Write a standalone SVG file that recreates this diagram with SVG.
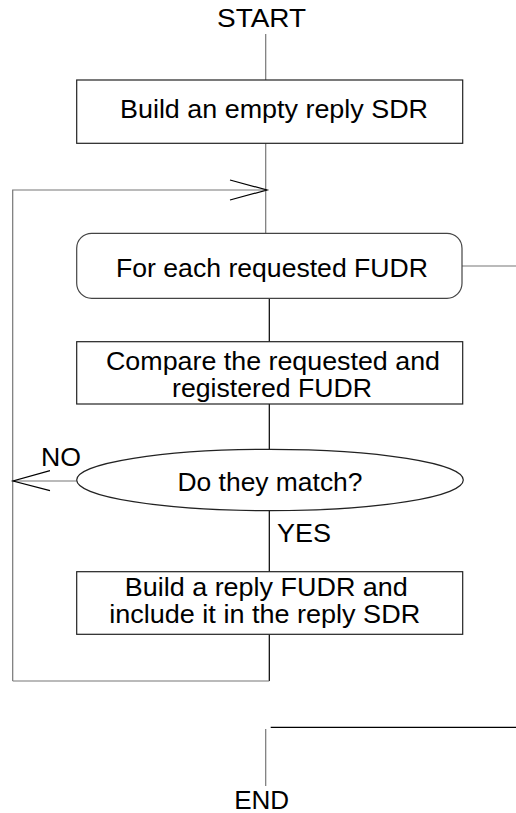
<svg xmlns="http://www.w3.org/2000/svg" width="516" height="813" viewBox="0 0 516 813">
  <style>
    text { font-family: "Liberation Sans", Arial, sans-serif; font-size: 25px; fill: #000; }
    .box { fill: #fff; stroke: #222; stroke-width: 1.2; }
    .ln { fill: none; stroke: #777; stroke-width: 1.2; }
    .dk { fill: none; stroke: #000; stroke-width: 1.2; }
  </style>
  <rect width="516" height="813" fill="#fff"/>

  <!-- connectors -->
  <g id="connectors">
    <line class="ln" x1="265.7" y1="34" x2="265.7" y2="80"/>
    <line class="ln" x1="265.7" y1="143.3" x2="265.7" y2="233.3"/>
    <!-- loop return into the top of the iteration -->
    <polyline class="ln" points="12.7,681 12.7,190 267,190"/>
    <polyline class="dk" points="230,180 267,190 230,200"/>
    <!-- iteration exit to the right -->
    <line class="ln" x1="462" y1="266" x2="516" y2="266"/>
    <line class="dk" x1="269.3" y1="298.3" x2="269.3" y2="341.7"/>
    <line class="dk" x1="269.3" y1="404" x2="269.3" y2="449.3"/>
    <!-- NO branch -->
    <line class="ln" x1="77" y1="481" x2="13" y2="481"/>
    <polyline class="dk" points="50,470.7 13,481 50,490.7"/>
    <!-- YES branch -->
    <line class="dk" x1="269.3" y1="510.7" x2="269.3" y2="571.7"/>
    <line class="dk" x1="269.3" y1="634.3" x2="269.3" y2="681"/>
    <line class="ln" x1="12.7" y1="681" x2="269.3" y2="681"/>
    <!-- exit path to END -->
    <line class="dk" x1="270.7" y1="727.3" x2="516" y2="727.3"/>
    <line class="ln" x1="265.7" y1="729" x2="265.7" y2="786"/>
  </g>

  <g id="start">
    <text x="261.5" y="26.7" text-anchor="middle" textLength="89" lengthAdjust="spacingAndGlyphs">START</text>
  </g>

  <g id="build-empty">
    <rect class="box" x="76.7" y="80" width="386" height="63.3"/>
    <text x="274" y="118.3" text-anchor="middle" textLength="308" lengthAdjust="spacingAndGlyphs">Build an empty reply SDR</text>
  </g>

  <g id="for-each">
    <rect class="box" x="76.7" y="233.3" width="385.3" height="65" rx="15" ry="15" style="stroke:#444"/>
    <text x="272" y="277.3" text-anchor="middle" textLength="312" lengthAdjust="spacingAndGlyphs">For each requested FUDR</text>
  </g>

  <g id="compare">
    <rect class="box" x="76.7" y="341.7" width="386" height="62.3"/>
    <text x="273" y="370" text-anchor="middle" textLength="334" lengthAdjust="spacingAndGlyphs">Compare the requested and</text>
    <text x="272" y="396.7" text-anchor="middle" textLength="200" lengthAdjust="spacingAndGlyphs">registered FUDR</text>
  </g>

  <g id="match">
    <ellipse class="box" cx="270" cy="480" rx="193.3" ry="30.7"/>
    <text x="270" y="490.7" text-anchor="middle" textLength="185" lengthAdjust="spacingAndGlyphs">Do they match?</text>
  </g>

  <g id="labels">
    <text x="61" y="466" text-anchor="middle" textLength="40" lengthAdjust="spacingAndGlyphs">NO</text>
    <text x="304" y="541.7" text-anchor="middle" textLength="54" lengthAdjust="spacingAndGlyphs">YES</text>
  </g>

  <g id="build-reply">
    <rect class="box" x="76.7" y="571.7" width="386" height="62.6"/>
    <text x="266.3" y="596" text-anchor="middle" textLength="283" lengthAdjust="spacingAndGlyphs">Build a reply FUDR and</text>
    <text x="264.7" y="623.3" text-anchor="middle" textLength="311" lengthAdjust="spacingAndGlyphs">include it in the reply SDR</text>
  </g>

  <g id="end">
    <text x="261.7" y="809" text-anchor="middle" textLength="55" lengthAdjust="spacingAndGlyphs">END</text>
  </g>
</svg>
